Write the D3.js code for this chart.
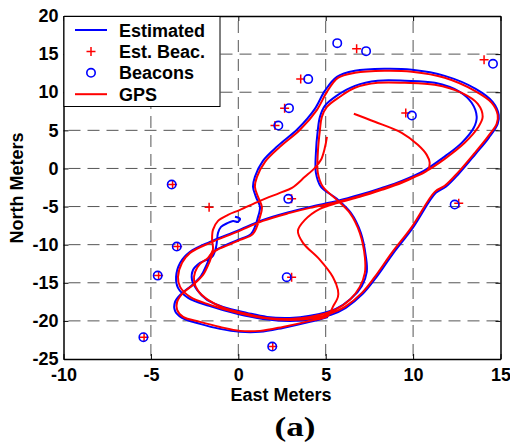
<!DOCTYPE html>
<html>
    <head>
        <meta charset="utf-8">
        <script src="https://d3js.org/d3.v7.min.js">
        </script>
        <style>
            body {margin: 0; background: white;}
            svg {display: block;}
        </style>
    </head>
    <body onload="init()">
        <div id="chart_div">
        </div>

        <script>
            // East / North metres
            var gps_path = [
                [5.07,4.15],[4.95,2.70],[4.73,1.13],[4.38,0.08],[3.81,-1.10],[3.07,-2.55],[2.38,-3.20],[1.24,-4.25],
                [0.10,-5.43],[-0.59,-6.09],[-1.16,-6.88],[-1.45,-8.06],[-1.50,-9.37],[-1.45,-10.68],[-1.73,-11.73],
                [-2.19,-12.52],[-2.47,-13.57],[-2.53,-14.75],[-2.30,-16.06],[-1.73,-17.24],[-0.82,-18.29],[0.50,-19.08],
                [1.64,-19.61],[2.95,-19.74],[4.10,-19.48],[5.53,-18.56],[6.38,-17.24],[6.95,-15.54],[7.24,-13.70],
                [7.24,-11.60],[6.95,-8.45],[6.38,-5.83],[5.64,-4.12],[4.84,-2.41],[4.55,-0.58],[4.55,2.05],[4.67,5.07],
                [4.78,6.77],[5.07,8.08],[5.81,9.40],[6.67,10.58],[7.98,11.23],[9.53,11.23],[11.24,10.97],[12.78,9.92],
                [13.70,8.48],[13.98,6.77],[13.70,5.33],[12.95,3.36],[11.81,1.26],[10.67,-0.45],[9.35,-1.76],[8.21,-2.68],
                [6.95,-3.60],[5.70,-4.38],[4.10,-5.17],[2.95,-5.83],[1.41,-6.88],[-0.07,-8.32],[-1.62,-9.76],[-2.76,-11.08],
                [-3.22,-12.39],[-3.45,-14.23],[-3.33,-15.54],[-2.76,-16.85],[-1.62,-17.90],[-0.07,-18.95],[1.41,-19.61],
                [2.95,-19.87],[4.38,-19.61],[5.24,-19.08],[6.10,-18.16],[7.07,-16.33],[7.81,-14.23],[8.78,-11.08],
                [9.93,-7.66],[11.24,-3.07],[11.81,-2.28],[12.55,-0.58],[13.53,2.05],[14.27,4.15],[14.78,5.85],[14.84,7.03],
                [14.50,8.61],[13.53,10.18],[11.81,11.89],[9.93,12.68],[8.38,12.81],[6.67,12.55],[5.70,11.89],[5.07,10.05],
                [4.50,7.69],[3.53,5.07],[2.38,2.83],[1.53,0.87],[1.07,-1.10],[0.95,-2.41],[1.13,-3.73],[1.35,-5.04],
                [1.24,-6.35],[0.84,-8.58],[0.10,-9.37],[-0.70,-10.16],[-1.39,-10.94],[-1.67,-12.39],[-2.02,-13.96],
                [-2.59,-15.28],[-3.16,-16.33],[-3.50,-17.51],[-3.50,-18.56],[-3.16,-19.48],[-2.19,-20.13],[-1.05,-20.79],
                [0.10,-21.31],[1.24,-21.31],[2.55,-20.79],[4.10,-20.00],[5.13,-19.34],[5.41,-18.16],[5.70,-16.85],
                [5.70,-15.93],[5.41,-14.23],[4.67,-11.99],[3.70,-9.76],[3.41,-8.19],[3.81,-6.75],[4.67,-5.30],[5.70,-4.51],
                [6.95,-3.73],[8.21,-2.81],[9.35,-1.89],[10.10,-1.10],[10.84,-0.18],[10.95,0.73],[10.78,1.78],[10.27,3.10],
                [9.35,4.67],[7.81,6.12],[6.61,7.17]
            ];

            var est_path = [
                [-0.19,-6.35],[0.10,-6.61],[-0.02,-7.01],[-0.30,-6.88],[-0.59,-7.14],[-0.99,-7.66],[-1.16,-8.45],
                [-1.27,-10.29],[-1.50,-11.60],[-2.19,-12.39],[-2.59,-13.31],[-2.65,-14.62],[-2.36,-15.93],[-1.79,-17.24],
                [-0.87,-18.16],[0.50,-18.95],[1.64,-19.48],[2.95,-19.61],[4.10,-19.34],[5.58,-18.43],[6.44,-17.11],
                [7.07,-15.41],[7.35,-13.57],[7.30,-11.60],[7.01,-8.45],[6.44,-5.83],[5.64,-3.99],[4.73,-2.41],[4.44,-0.58],
                [4.44,2.05],[4.55,5.07],[4.67,6.77],[4.95,8.22],[5.70,9.66],[6.67,10.84],[7.98,11.50],[9.53,11.50],
                [11.24,11.23],[12.67,10.05],[13.35,8.61],[13.64,6.77],[13.47,5.33],[12.78,3.36],[11.70,1.39],[10.61,-0.31],
                [9.35,-1.63],[8.21,-2.55],[6.95,-3.46],[5.70,-4.25],[4.10,-5.04],[2.95,-5.70],[1.41,-6.75],[-0.07,-8.19],
                [-1.62,-9.63],[-2.76,-10.94],[-3.33,-12.39],[-3.56,-14.23],[-3.45,-15.67],[-2.87,-16.98],[-1.67,-18.03],
                [-0.07,-19.08],[1.41,-19.74],[2.95,-20.00],[4.38,-19.74],[5.30,-19.21],[6.15,-18.29],[7.12,-16.46],
                [7.87,-14.36],[8.84,-11.21],[9.98,-7.80],[11.30,-3.20],[11.87,-2.41],[12.61,-0.71],[13.58,1.92],
                [14.33,4.02],[14.84,5.85],[14.90,7.03],[14.55,8.74],[13.58,10.45],[11.81,12.15],[9.93,12.94],[8.38,13.07],
                [6.67,12.81],[5.64,12.02],[4.95,10.18],[4.38,7.82],[3.41,5.20],[2.27,2.97],[1.41,1.00],[0.95,-1.10],
                [0.84,-2.41],[1.01,-3.73],[1.24,-5.04],[1.13,-6.35],[0.73,-8.58],[-0.02,-9.37],[-0.82,-10.16],
                [-1.50,-11.08],[-1.79,-12.52],[-2.13,-14.09],[-2.70,-15.41],[-3.27,-16.46],[-3.62,-17.51],[-3.62,-18.69],
                [-3.22,-19.61],[-2.19,-20.39],[-1.05,-21.05],[0.10,-21.44],[1.24,-21.44],[2.55,-20.92],[4.10,-20.13],
                [5.13,-19.48]
            ];

            var beacons = [
                [5.66,16.44],[7.31,15.39],[14.57,13.73],[4.00,11.72],[2.90,7.91],[2.29,5.63],[9.93,6.94],
                [-3.81,-2.11],[-3.52,-10.25],[-4.61,-14.06],[-5.43,-22.14],[2.86,-3.99],[2.77,-14.27],
                [1.94,-23.37],[12.38,-4.74]
            ];

            var est_beacons = [
                [6.77,15.70],[14.06,14.25],[3.57,11.72],[2.65,7.91],[2.10,5.63],[9.58,7.26],[-1.67,-5.08],
                [-3.76,-2.11],[-3.47,-10.25],[-4.56,-14.06],[-5.39,-22.14],[3.05,-3.99],[3.05,-14.27],
                [1.97,-23.37],[12.61,-4.55]
            ];

            var x_ticks = [-10, -5, 0, 5, 10, 15];
            var y_ticks = [-25, -20, -15, -10, -5, 0, 5, 10, 15, 20];
            var legend_labels = ["Estimated", "Est. Beac.", "Beacons", "GPS"];

            var margin = {top: 16, right: 9.5, bottom: 87, left: 63.5};
            var width = 510 - margin.left - margin.right;
            var height = 446 - margin.top - margin.bottom;
            var font = "'Liberation Sans', Arial, sans-serif";

            function init()
            {
                let root = d3.select("#chart_div").append("svg")
                    .attr("width", 510)
                    .attr("height", 446);

                let svg = root.append("g")
                    .attr("transform", "translate(" + margin.left + "," + margin.top + ")");

                var x_scale = d3.scaleLinear().domain([-10, 15]).range([0, width]);
                var y_scale = d3.scaleLinear().domain([-25, 20]).range([height, 0]);

                // dashed grid, inner ticks only
                svg.selectAll(".vgrid")
                    .data(x_ticks.slice(1, -1))
                    .enter().append("line")
                    .attr("x1", d => x_scale(d)).attr("x2", d => x_scale(d))
                    .attr("y1", 0).attr("y2", height)
                    .attr("stroke", "#555")
                    .attr("stroke-dasharray", "12,7")
                    .attr("stroke-dashoffset", 14);

                svg.selectAll(".hgrid")
                    .data(y_ticks.slice(1, -1))
                    .enter().append("line")
                    .attr("x1", 0).attr("x2", width)
                    .attr("y1", d => y_scale(d)).attr("y2", d => y_scale(d))
                    .attr("stroke", "#555")
                    .attr("stroke-dasharray", "12,7")
                    .attr("stroke-dashoffset", 14);

                var line = d3.line()
                    .x(d => x_scale(d[0]))
                    .y(d => y_scale(d[1]))
                    .curve(d3.curveCatmullRom.alpha(0.5));

                svg.append("path")
                    .datum(est_path)
                    .attr("fill", "none")
                    .attr("stroke", "#0000ff")
                    .attr("stroke-width", 2)
                    .attr("d", line);

                svg.selectAll(".estbeac")
                    .data(est_beacons)
                    .enter().append("path")
                    .attr("transform", d => "translate(" + x_scale(d[0]) + "," + y_scale(d[1]) + ")")
                    .attr("d", "M-4.5,0H4.5M0,-4.5V4.5")
                    .attr("stroke", "#ff0000")
                    .attr("stroke-width", 1.5);

                svg.selectAll(".beacon")
                    .data(beacons)
                    .enter().append("circle")
                    .attr("cx", d => x_scale(d[0]))
                    .attr("cy", d => y_scale(d[1]))
                    .attr("r", 4.2)
                    .attr("fill", "none")
                    .attr("stroke", "#0000ff")
                    .attr("stroke-width", 1.6);

                svg.append("path")
                    .datum(gps_path)
                    .attr("fill", "none")
                    .attr("stroke", "#ff0000")
                    .attr("stroke-width", 2)
                    .attr("d", line);

                // box with inward ticks on all four sides
                let ax_b = svg.append("g")
                    .attr("transform", "translate(0," + height + ")")
                    .call(d3.axisBottom(x_scale).tickValues(x_ticks).tickSize(-5).tickSizeOuter(0)
                        .tickPadding(9).tickFormat(d => "" + d));
                let ax_l = svg.append("g")
                    .call(d3.axisLeft(y_scale).tickValues(y_ticks).tickSize(-5).tickSizeOuter(0)
                        .tickPadding(5).tickFormat(d => "" + d));
                svg.append("g")
                    .call(d3.axisTop(x_scale).tickValues(x_ticks).tickSize(-5).tickSizeOuter(0).tickFormat(""));
                svg.append("g")
                    .attr("transform", "translate(" + width + ",0)")
                    .call(d3.axisRight(y_scale).tickValues(y_ticks).tickSize(-5).tickSizeOuter(0).tickFormat(""));

                svg.selectAll(".domain").attr("stroke-width", 1.5);
                [ax_b, ax_l].forEach(function(a)
                {
                    a.attr("font-size", 18).attr("font-family", font).attr("font-weight", "bold");
                    a.selectAll("text").attr("fill", "#000");
                });

                // axis titles
                root.append("text")
                    .attr("x", 281).attr("y", 401)
                    .attr("text-anchor", "middle")
                    .attr("font-family", font).attr("font-weight", "bold").attr("font-size", 18)
                    .text("East Meters");

                root.append("text")
                    .attr("transform", "translate(23,188) rotate(-90)")
                    .attr("text-anchor", "middle")
                    .attr("font-family", font).attr("font-weight", "bold").attr("font-size", 18)
                    .text("North Meters");

                root.append("text")
                    .attr("x", 295).attr("y", 436)
                    .attr("text-anchor", "middle")
                    .attr("font-family", "'Liberation Serif', 'Times New Roman', serif")
                    .attr("font-weight", "bold").attr("font-size", 28)
                    .attr("textLength", 41).attr("lengthAdjust", "spacingAndGlyphs")
                    .text("(a)");

                drawLegend(root);
            }

            function drawLegend(root)
            {
                let lg = root.append("g").attr("transform", "translate(64,16.5)");
                lg.append("rect")
                    .attr("width", 156).attr("height", 90)
                    .attr("fill", "white").attr("stroke", "black").attr("stroke-width", 1);

                let rows = lg.selectAll(".row")
                    .data(legend_labels)
                    .enter().append("g")
                    .attr("transform", (d, i) => "translate(0," + (13.5 + i * 21.4) + ")");

                rows.append("text")
                    .attr("x", 55).attr("y", 6.5)
                    .attr("font-family", font).attr("font-weight", "bold").attr("font-size", 18)
                    .text(d => d);

                rows.filter((d, i) => i == 0 || i == 3).append("line")
                    .attr("x1", 11).attr("x2", 43)
                    .attr("stroke", (d, i) => i == 0 ? "#0000ff" : "#ff0000")
                    .attr("stroke-width", 2);

                rows.filter((d, i) => i == 1).append("path")
                    .attr("d", "M22.5,0H31.5M27,-4.5V4.5")
                    .attr("stroke", "#ff0000").attr("stroke-width", 1.5);

                rows.filter((d, i) => i == 2).append("circle")
                    .attr("cx", 27).attr("r", 4.2)
                    .attr("fill", "none").attr("stroke", "#0000ff").attr("stroke-width", 1.6);
            }
        </script>
    </body>
</html>
